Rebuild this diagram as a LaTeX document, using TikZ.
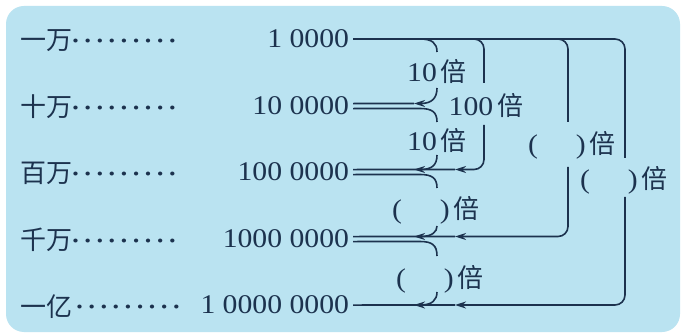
\documentclass[tikz,border=0pt]{standalone}
\usepackage{fontspec}
\setmainfont{Liberation Serif}[FakeStretch=1.1]
\newfontfamily\cjk{Noto Sans CJK SC}
\usetikzlibrary{arrows.meta}
\definecolor{bgblue}{RGB}{186,227,241}
\definecolor{ink}{RGB}{28,50,78}
\newcommand\beichar{{\cjk\fontsize{26}{30}\selectfont 倍}}
\begin{document}
\begin{tikzpicture}[x=1pt,y=-1pt,
  conn/.style={draw=ink, line width=1.6pt},
  tip/.style={-{Stealth[length=11pt,width=7pt]}},
  cjklab/.style={inner sep=0pt, text=ink, font=\cjk\fontsize{26}{30}\selectfont},
  num/.style={inner sep=0pt, outer xsep=4pt, text=ink, font=\fontsize{27}{30}\selectfont},
  dotsn/.style={inner sep=0pt, text=ink, font=\fontsize{33}{36}\selectfont},
  lab/.style={inner sep=0pt, text=ink, font=\fontsize{27}{30}\selectfont},
]
\useasboundingbox (0,0) rectangle (684,336);
\fill[white] (0,0) rectangle (684,336);
\fill[bgblue, rounded corners=18pt] (6,6) rectangle (680,332);

% left labels
\node[cjklab, anchor=base west] (l1) at (20,50) {一万};
\node[cjklab, anchor=base west] (l2) at (20,117) {十万};
\node[cjklab, anchor=base west] (l3) at (20,183) {百万};
\node[cjklab, anchor=base west] (l4) at (20,250) {千万};
\node[cjklab, anchor=base west] (l5) at (20,316) {一亿};
% dots
\node[dotsn] (d1) at (124,41) {………};
\node[dotsn] (d2) at (124,108) {………};
\node[dotsn] (d3) at (124,174) {………};
\node[dotsn] (d4) at (124,241) {………};
\node[dotsn] (d5) at (128,307) {………};
% numbers
\node[num, anchor=base east] (n1) at (353,47.9) {1 0000};
\node[num, anchor=base east] (n2) at (353,114.9) {10 0000};
\node[num, anchor=base east] (n3) at (353,180.9) {100 0000};
\node[num, anchor=base east] (n4) at (353,247.9) {1000 0000};
\node[num, anchor=base east] (n5) at (353,313.9) {1 0000 0000};

% labels
\node[lab, anchor=base] (b12) at (437,82) {10\hspace{4pt}\beichar};
\node[lab, anchor=base] (b23) at (437,151) {10\hspace{4pt}\beichar};
\node[lab, anchor=base] (b34) at (436,219) {(\hspace{38pt})\hspace{4pt}\beichar};
\node[lab, anchor=base] (b45) at (440,287) {(\hspace{38pt})\hspace{4pt}\beichar};
\node[lab, anchor=base] (L100) at (486,116) {100\hspace{4pt}\beichar};
\node[lab, anchor=base] (La) at (572,154) {(\hspace{38pt})\hspace{4pt}\beichar};
\node[lab, anchor=base] (Lb) at (624,189) {(\hspace{38pt})\hspace{4pt}\beichar};

% gap end coordinates
\coordinate (g100a) at (484,83);  \coordinate (g100b) at (484,125);
\coordinate (gAa) at (568,122);   \coordinate (gAb) at (568,167);
\coordinate (gBa) at (625,158);   \coordinate (gBb) at (625,197);

% long connectors from row 1
\draw[conn, rounded corners=10pt] (n1.east) -- (625,39) -- (gBa);
\draw[conn, rounded corners=10pt] (n1.east) -- (568,39) -- (gAa);
\draw[conn, rounded corners=10pt] (n1.east) -- (484,39) -- (g100a);
\draw[conn, tip, rounded corners=10pt] (g100b) -- (484,169.5) -- (455,169.5);
\draw[conn, tip, rounded corners=10pt] (gAb) -- (568,236.5) -- (455,236.5);
\draw[conn, tip, rounded corners=10pt] (gBb) -- (625,305) -- (455,305);

% row lines (arrow-receiving)
\draw[conn] ([yshift=2.5pt]n2.east) -- (414,103.5);
\draw[conn] ([yshift=2.5pt]n3.east) -- (455,169.5);
\draw[conn] ([yshift=2.5pt]n4.east) -- (455,236.5);
\draw[conn] (n5.east) -- (455,305);

% small brackets: upper halves
\draw[conn] (420,39) .. controls (432,39) and (437,43) .. (437,52);
\draw[conn] ([yshift=-2.5pt]n2.east) -- (420,108.5) .. controls (432,108.5) and (437,112) .. (437,122);
\draw[conn] ([yshift=-2.5pt]n3.east) -- (420,174.5) .. controls (432,174.5) and (437,178) .. (437,188);
\draw[conn] ([yshift=-2.5pt]n4.east) -- (420,241.5) .. controls (432,241.5) and (437,245) .. (437,256);
% small brackets: lower halves
\draw[conn, tip] (437,88) .. controls (437,98) and (432,103.5) .. (414,103.5);
\draw[conn, tip] (437,155) .. controls (437,165) and (432,169.5) .. (414,169.5);
\draw[conn, tip] (437,226) .. controls (437,232) and (432,236.5) .. (414,236.5);
\draw[conn, tip] (437,292) .. controls (437,300) and (432,305) .. (414,305);
\end{tikzpicture}
\end{document}
